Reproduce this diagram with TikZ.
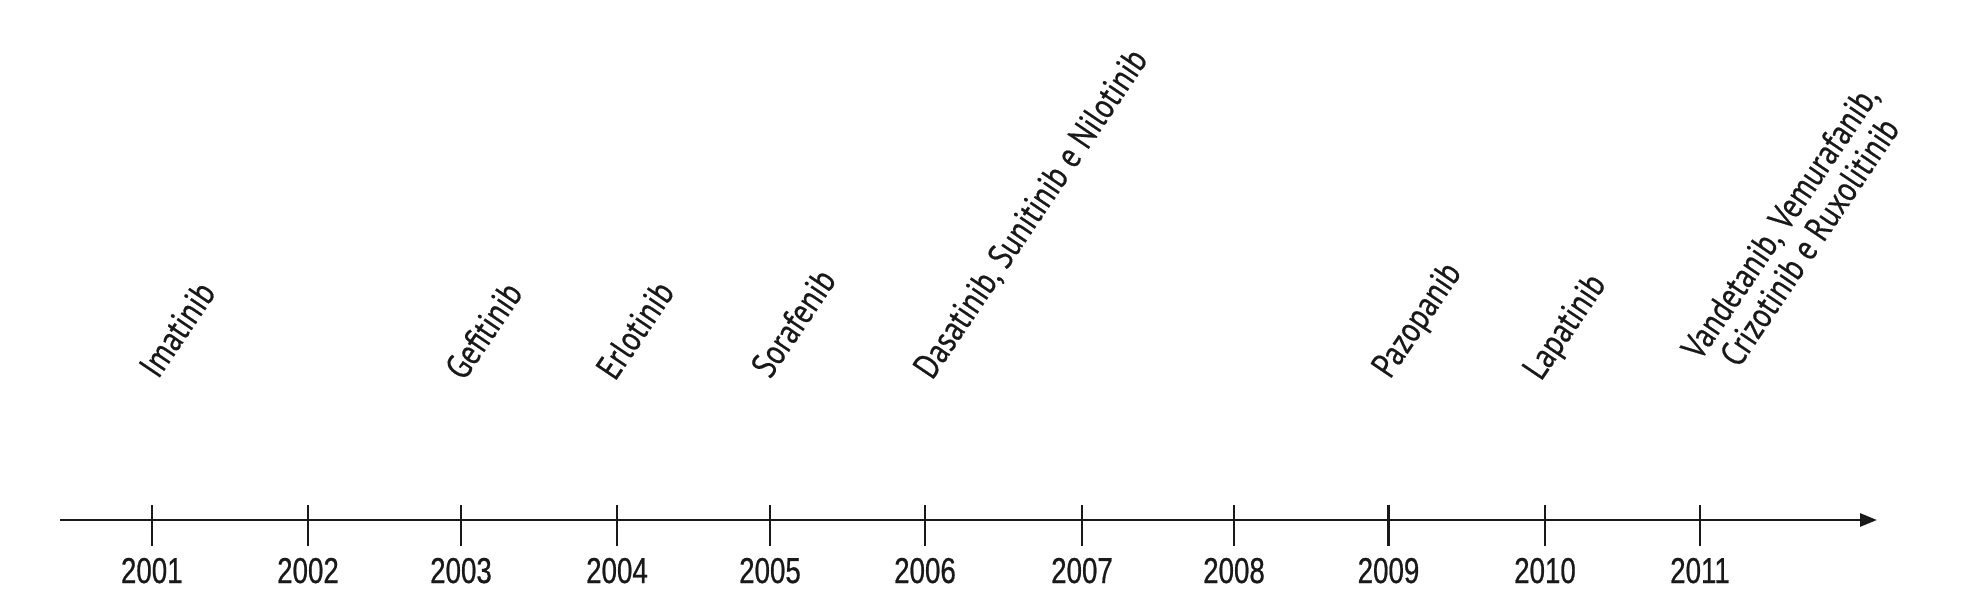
\documentclass[tikz,border=0pt]{standalone}
\usepackage{fontspec}
\usetikzlibrary{arrows.meta}
\newfontfamily\yearfont[FakeStretch=0.77,FakeBold=0.6]{Liberation Sans}
\newfontfamily\drugfont[FakeStretch=0.82,FakeBold=0.5]{PT Sans}
\begin{document}
\begin{tikzpicture}[x=1pt,y=-1pt,
  axisline/.style={line width=2.8pt,draw=black!90,-{Triangle[length=17pt,width=13pt]}},
  tickline/.style={line width=2.6pt,draw=black!90},
  yearlbl/.style={anchor=base,inner sep=0pt,font=\yearfont\fontsize{36}{40}\selectfont,text=black!90},
  druglbl/.style={anchor=base west,inner sep=0pt,rotate=56,font=\drugfont\fontsize{36}{36}\selectfont,text=black!90}]
\useasboundingbox (0,0) rectangle (1979,608);
\coordinate (axstart) at (60,520);
\coordinate (axend) at (1877,520);
\draw[axisline] (axstart) -- (axend);
\foreach \yr/\x in {2001/151.8,2002/308,2003/461,2004/617,2005/770,2006/925,2007/1082,2008/1234,2009/1388.5,2010/1545,2011/1700}{
  \coordinate (t\yr) at (\x,520);
  \draw[tickline] (t\yr) ++(0,-15) -- ++(0,41);
  \node[yearlbl] (y\yr) at (\x,583) {\yr};
}
\node[druglbl] (imatinib) at (158,380) {Imatinib};
\node[druglbl] (gefitinib) at (464,382) {Gefitinib};
\node[druglbl] (erlotinib) at (615,382) {Erlotinib};
\node[druglbl] (sorafenib) at (770,380) {Sorafenib};
\node[druglbl] (dasatinib) at (932,381) {Dasatinib, Sunitinib e Nilotinib};
\node[druglbl] (pazopanib) at (1390,380) {Pazopanib};
\node[druglbl] (lapatinib) at (1541,382) {Lapatinib};
\node[druglbl,align=center] (vandetanib) at (1730,382) {Vandetanib, Vemurafanib,\\Crizotinib e Ruxolitinib};
\end{tikzpicture}
\end{document}
